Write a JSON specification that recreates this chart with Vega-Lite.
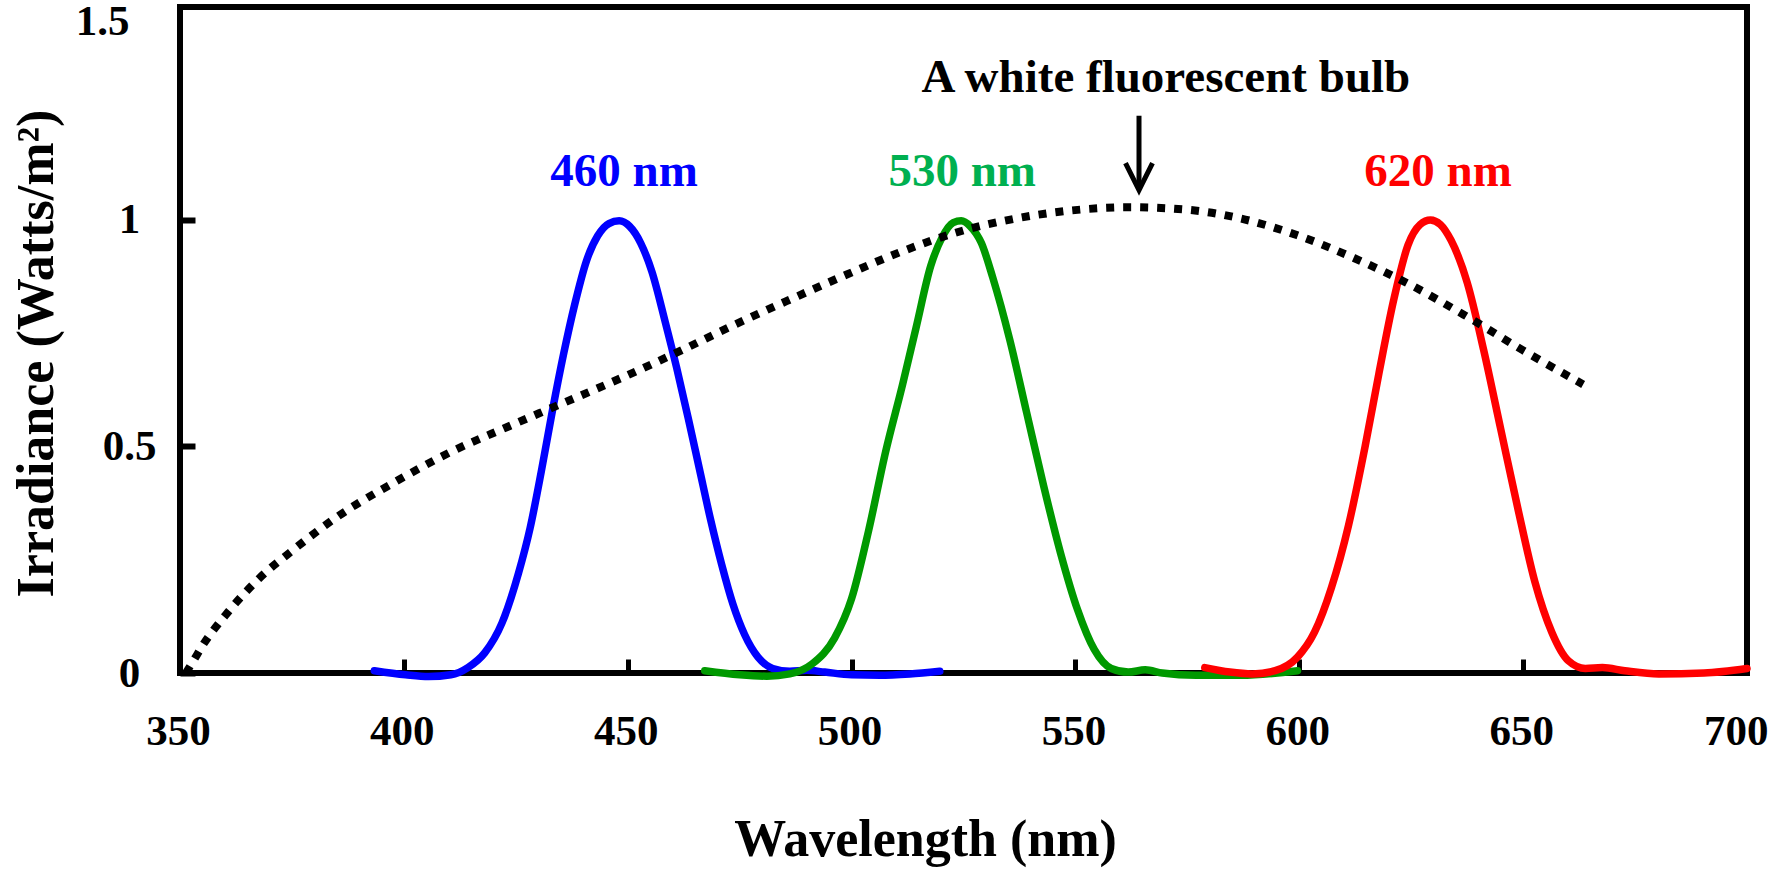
{
  "$schema": "https://vega.github.io/schema/vega-lite/v6.json",
  "width": 1567,
  "height": 666,
  "autosize": "none",
  "padding": {"left": 180, "top": 7, "right": 22, "bottom": 196},
  "background": "white",
  "config": {
    "view": {"stroke": "black", "strokeWidth": 6},
    "font": "Liberation Serif"
  },
  "datasets": {
    "curves": [
      {"series": "blue", "wl": 393.4, "irr": 0.005},
      {"series": "blue", "wl": 400.4, "irr": -0.004},
      {"series": "blue", "wl": 405.5, "irr": -0.008},
      {"series": "blue", "wl": 410.5, "irr": -0.004},
      {"series": "blue", "wl": 414.3, "irr": 0.012},
      {"series": "blue", "wl": 418.1, "irr": 0.045},
      {"series": "blue", "wl": 421.9, "irr": 0.11},
      {"series": "blue", "wl": 425.6, "irr": 0.22},
      {"series": "blue", "wl": 428.2, "irr": 0.32},
      {"series": "blue", "wl": 430.7, "irr": 0.445},
      {"series": "blue", "wl": 433.2, "irr": 0.58},
      {"series": "blue", "wl": 435.7, "irr": 0.705},
      {"series": "blue", "wl": 438.2, "irr": 0.815},
      {"series": "blue", "wl": 440.8, "irr": 0.91},
      {"series": "blue", "wl": 443.3, "irr": 0.965},
      {"series": "blue", "wl": 445.8, "irr": 0.992},
      {"series": "blue", "wl": 448.1, "irr": 0.998},
      {"series": "blue", "wl": 450.4, "irr": 0.986},
      {"series": "blue", "wl": 452.9, "irr": 0.949},
      {"series": "blue", "wl": 455.4, "irr": 0.886},
      {"series": "blue", "wl": 458.4, "irr": 0.774},
      {"series": "blue", "wl": 460.9, "irr": 0.675},
      {"series": "blue", "wl": 463.5, "irr": 0.563},
      {"series": "blue", "wl": 466.0, "irr": 0.451},
      {"series": "blue", "wl": 468.5, "irr": 0.339},
      {"series": "blue", "wl": 471.0, "irr": 0.239},
      {"series": "blue", "wl": 473.5, "irr": 0.152},
      {"series": "blue", "wl": 476.1, "irr": 0.085},
      {"series": "blue", "wl": 479.1, "irr": 0.035},
      {"series": "blue", "wl": 482.4, "irr": 0.01},
      {"series": "blue", "wl": 486.2, "irr": 0.004},
      {"series": "blue", "wl": 490.0, "irr": 0.006},
      {"series": "blue", "wl": 494.0, "irr": 0.002},
      {"series": "blue", "wl": 500.0, "irr": -0.004},
      {"series": "blue", "wl": 506.3, "irr": -0.005},
      {"series": "blue", "wl": 513.0, "irr": -0.002},
      {"series": "blue", "wl": 519.7, "irr": 0.004},
      {"series": "green", "wl": 467.2, "irr": 0.005},
      {"series": "green", "wl": 475.0, "irr": -0.004},
      {"series": "green", "wl": 481.1, "irr": -0.007},
      {"series": "green", "wl": 486.2, "irr": -0.002},
      {"series": "green", "wl": 491.2, "irr": 0.02},
      {"series": "green", "wl": 496.2, "irr": 0.077},
      {"series": "green", "wl": 500.0, "irr": 0.164},
      {"series": "green", "wl": 503.8, "irr": 0.314},
      {"series": "green", "wl": 507.6, "irr": 0.488},
      {"series": "green", "wl": 511.4, "irr": 0.637},
      {"series": "green", "wl": 514.4, "irr": 0.762},
      {"series": "green", "wl": 517.7, "irr": 0.899},
      {"series": "green", "wl": 520.2, "irr": 0.961},
      {"series": "green", "wl": 522.7, "irr": 0.994},
      {"series": "green", "wl": 524.5, "irr": 0.998},
      {"series": "green", "wl": 526.5, "irr": 0.986},
      {"series": "green", "wl": 529.0, "irr": 0.949},
      {"series": "green", "wl": 531.5, "irr": 0.874},
      {"series": "green", "wl": 535.3, "irr": 0.737},
      {"series": "green", "wl": 539.1, "irr": 0.575},
      {"series": "green", "wl": 542.9, "irr": 0.413},
      {"series": "green", "wl": 546.7, "irr": 0.264},
      {"series": "green", "wl": 550.5, "irr": 0.139},
      {"series": "green", "wl": 554.2, "irr": 0.052},
      {"series": "green", "wl": 558.0, "irr": 0.01},
      {"series": "green", "wl": 561.8, "irr": 0.002},
      {"series": "green", "wl": 565.6, "irr": 0.007},
      {"series": "green", "wl": 569.4, "irr": 0.0},
      {"series": "green", "wl": 576.9, "irr": -0.005},
      {"series": "green", "wl": 587.0, "irr": -0.005},
      {"series": "green", "wl": 599.6, "irr": 0.005},
      {"series": "red", "wl": 578.9, "irr": 0.012},
      {"series": "red", "wl": 584.5, "irr": 0.002},
      {"series": "red", "wl": 589.5, "irr": -0.002},
      {"series": "red", "wl": 594.6, "irr": 0.005},
      {"series": "red", "wl": 599.6, "irr": 0.035},
      {"series": "red", "wl": 603.4, "irr": 0.09},
      {"series": "red", "wl": 607.2, "irr": 0.189},
      {"series": "red", "wl": 611.0, "irr": 0.326},
      {"series": "red", "wl": 614.7, "irr": 0.5},
      {"series": "red", "wl": 617.8, "irr": 0.662},
      {"series": "red", "wl": 621.1, "irr": 0.824},
      {"series": "red", "wl": 624.3, "irr": 0.945},
      {"series": "red", "wl": 627.0, "irr": 0.99},
      {"series": "red", "wl": 629.3, "irr": 1.0},
      {"series": "red", "wl": 631.5, "irr": 0.99},
      {"series": "red", "wl": 633.9, "irr": 0.955},
      {"series": "red", "wl": 637.5, "irr": 0.862},
      {"series": "red", "wl": 641.2, "irr": 0.712},
      {"series": "red", "wl": 645.0, "irr": 0.538},
      {"series": "red", "wl": 648.8, "irr": 0.364},
      {"series": "red", "wl": 652.6, "irr": 0.202},
      {"series": "red", "wl": 656.4, "irr": 0.09},
      {"series": "red", "wl": 660.1, "irr": 0.027},
      {"series": "red", "wl": 663.9, "irr": 0.01},
      {"series": "red", "wl": 667.7, "irr": 0.012},
      {"series": "red", "wl": 672.7, "irr": 0.005},
      {"series": "red", "wl": 680.3, "irr": -0.002},
      {"series": "red", "wl": 690.4, "irr": 0.0},
      {"series": "red", "wl": 700.0, "irr": 0.01}
    ],
    "bulb": [
      {"wl": 351.3, "irr": 0.0},
      {"wl": 353.0, "irr": 0.027},
      {"wl": 355.0, "irr": 0.06},
      {"wl": 360.1, "irr": 0.127},
      {"wl": 367.7, "irr": 0.209},
      {"wl": 375.2, "irr": 0.271},
      {"wl": 385.3, "irr": 0.346},
      {"wl": 397.9, "irr": 0.421},
      {"wl": 410.5, "irr": 0.488},
      {"wl": 423.1, "irr": 0.543},
      {"wl": 433.7, "irr": 0.588},
      {"wl": 448.3, "irr": 0.65},
      {"wl": 460.9, "irr": 0.707},
      {"wl": 473.5, "irr": 0.767},
      {"wl": 486.2, "irr": 0.824},
      {"wl": 498.8, "irr": 0.879},
      {"wl": 511.4, "irr": 0.931},
      {"wl": 524.0, "irr": 0.974},
      {"wl": 536.6, "irr": 1.003},
      {"wl": 549.2, "irr": 1.021},
      {"wl": 561.8, "irr": 1.028},
      {"wl": 574.4, "irr": 1.023},
      {"wl": 587.0, "irr": 1.003},
      {"wl": 599.6, "irr": 0.966},
      {"wl": 612.2, "irr": 0.916},
      {"wl": 624.8, "irr": 0.857},
      {"wl": 637.4, "irr": 0.787},
      {"wl": 650.0, "irr": 0.712},
      {"wl": 663.4, "irr": 0.637}
    ],
    "labels": [
      {"wl": 449.2, "irr": 1.105, "text": "460 nm", "col": "#0000FF"},
      {"wl": 524.7, "irr": 1.105, "text": "530 nm", "col": "#00B050"},
      {"wl": 631.0, "irr": 1.105, "text": "620 nm", "col": "#FF0000"},
      {"wl": 570.2, "irr": 1.313, "text": "A white fluorescent bulb", "col": "#000000"}
    ],
    "arrow": [
      {"wl": 564.2, "top": 1.23, "tip": 1.066}
    ]
  },
  "layer": [
    {
      "data": {"name": "curves"},
      "mark": {"type": "line", "strokeWidth": 7.5, "interpolate": "monotone", "strokeCap": "round", "clip": false},
      "encoding": {
        "x": {
          "field": "wl", "type": "quantitative",
          "scale": {"domain": [350, 700], "nice": false, "zero": false},
          "axis": {
            "values": [350, 400, 450, 500, 550, 600, 650, 700],
            "domain": false, "grid": false,
            "tickColor": "black", "tickWidth": 5, "tickSize": -14,
            "labelFont": "Liberation Serif", "labelFontSize": 43, "labelFontWeight": "bold", "labelColor": "black",
            "labelFlush": false,
            "labelAlign": {"condition": {"test": "datum.value == 700", "value": "right"}, "value": "center"},
            "labelOffset": {"condition": {"test": "datum.value == 700", "value": 21}, "value": -2},
            "labelBaseline": "top",
            "labelPadding": 51,
            "title": "Wavelength (nm)",
            "titleFont": "Liberation Serif", "titleFontSize": 52, "titleFontWeight": "bold", "titleColor": "black",
            "titleX": 745, "titleY": 182, "titleBaseline": "alphabetic", "titleAlign": "center"
          }
        },
        "y": {
          "field": "irr", "type": "quantitative",
          "scale": {"domain": [0, 1.47], "nice": false, "zero": false},
          "axis": {
            "values": [0, 0.5, 1, 1.47],
            "labelExpr": "datum.value > 1.4 ? '1.5' : '' + datum.value",
            "domain": false, "grid": false,
            "tickColor": "black", "tickWidth": 6, "tickSize": -15,
            "tickOpacity": {"condition": {"test": "datum.value > 1.4", "value": 0}, "value": 1},
            "labelFont": "Liberation Serif", "labelFontSize": 43, "labelFontWeight": "bold", "labelColor": "black",
            "labelFlush": false,
            "labelAlign": {"condition": {"test": "datum.value > 1.4", "value": "right"}, "value": "center"},
            "labelOffset": {"condition": {"test": "datum.value > 1.4", "value": 14}, "value": 0},
            "labelBaseline": "middle",
            "labelPadding": 66,
            "title": "Irradiance (Watts/m²)",
            "titleFont": "Liberation Serif", "titleFontSize": 52, "titleFontWeight": "bold", "titleColor": "black",
            "titleAngle": -90, "titleX": -128, "titleY": 346, "titleBaseline": "alphabetic", "titleAlign": "center"
          }
        },
        "detail": {"field": "series"},
        "color": {
          "field": "series", "type": "nominal",
          "scale": {"domain": ["blue", "green", "red"], "range": ["#0000FF", "#009900", "#FF0000"]},
          "legend": null
        }
      }
    },
    {
      "data": {"name": "bulb"},
      "mark": {"type": "line", "color": "black", "strokeWidth": 8, "strokeDash": [8, 9], "strokeCap": "butt", "interpolate": "monotone"},
      "encoding": {
        "x": {"field": "wl", "type": "quantitative"},
        "y": {"field": "irr", "type": "quantitative"}
      }
    },
    {
      "data": {"name": "labels"},
      "mark": {"type": "text", "font": "Liberation Serif", "fontSize": 47, "fontWeight": "bold", "baseline": "middle", "align": "center"},
      "encoding": {
        "x": {"field": "wl", "type": "quantitative"},
        "y": {"field": "irr", "type": "quantitative"},
        "text": {"field": "text"},
        "color": {"field": "col", "type": "nominal", "scale": null}
      }
    },
    {
      "data": {"name": "arrow"},
      "mark": {"type": "rule", "color": "black", "strokeWidth": 5},
      "encoding": {
        "x": {"field": "wl", "type": "quantitative"},
        "y": {"field": "top", "type": "quantitative"},
        "y2": {"field": "tip"}
      }
    },
    {
      "data": {"name": "arrow"},
      "mark": {"type": "point", "shape": "M-1,-2L0,0L1,-2", "filled": false, "stroke": "black", "strokeWidth": 5, "size": 729, "opacity": 1, "strokeJoin": "miter"},
      "encoding": {
        "x": {"field": "wl", "type": "quantitative"},
        "y": {"field": "tip", "type": "quantitative"}
      }
    }
  ]
}
